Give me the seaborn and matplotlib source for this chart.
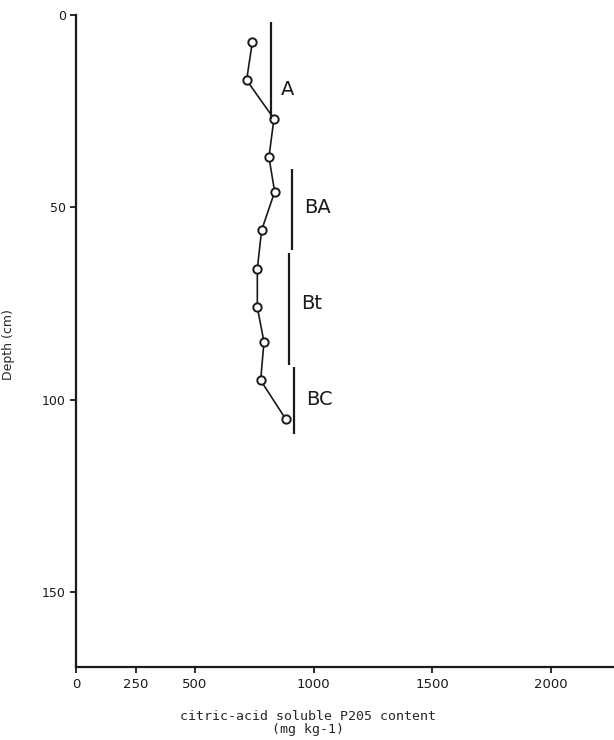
import matplotlib
matplotlib.use("Agg")
import matplotlib.pyplot as plt
import seaborn as sns
import pandas as pd

# ========= DATA =========
depth_cm = [7, 17, 27, 37, 46, 56, 66, 76, 85, 95, 105]
p2o5_mg_kg = [742, 718, 833, 812, 836, 781, 763, 763, 791, 777, 882]

horizon_names = ["A", "BA", "Bt", "BC"]
horizon_x = [819, 910, 896, 917]
horizon_top = [2, 40, 62, 91.5]
horizon_bottom = [27, 61, 91, 109]
label_depth = [19.5, 50, 75, 100]

x_ticks = [0, 250, 500, 1000, 1500, 2000]
y_ticks = [0, 50, 100, 150]

df = pd.DataFrame({"depth": depth_cm, "p2o5": p2o5_mg_kg})

# ========= FIGURE =========
sns.set_style("ticks")
plt.rcParams["font.family"] = ["DejaVu Sans"]

fig = plt.figure(figsize=(6.14, 7.4), dpi=100)
ax = fig.add_axes([0.124, 0.0986, 0.876, 0.8814])

sns.lineplot(data=df, x="p2o5", y="depth", sort=False, orient="y",
             color="#1a1a1a", linewidth=1.2, ax=ax)
ax.plot(df["p2o5"], df["depth"], linestyle="none", marker="o",
        markersize=6, markerfacecolor="white", markeredgecolor="#1a1a1a",
        markeredgewidth=1.4)

# horizon bars
ax.vlines(horizon_x, horizon_top, horizon_bottom, color="#1a1a1a", linewidth=1.6)
for name, hx, ld in zip(horizon_names, horizon_x, label_depth):
    off = 42 if name == "A" else 52
    ax.text(hx + off, ld, name, ha="left", va="center", fontsize=14,
            fontweight="normal", color="#1a1a1a")

ax.set_xlim(0, 2265)
ax.set_ylim(169.5, 0)
ax.set_xticks(x_ticks)
ax.set_yticks(y_ticks)
ax.tick_params(axis="both", direction="out", length=4, width=1.3,
               colors="#1a1a1a", labelsize=9)
ax.tick_params(axis="x", labelsize=9.5, pad=4)

sns.despine(ax=ax, top=True, right=True)
for side in ["left", "bottom"]:
    ax.spines[side].set_linewidth(1.6)
    ax.spines[side].set_color("#1a1a1a")

ax.set_xlabel("citric-acid soluble P205 content\n(mg kg-1)",
              family="DejaVu Sans Mono", fontsize=9.5, linespacing=0.95)
ax.xaxis.set_label_coords(0.432, -0.066)
ax.set_ylabel("Depth (cm)", fontsize=9)
ax.yaxis.set_label_coords(-0.113, 0.495)

fig.savefig("out.png", dpi=100)
plt.close(fig)
